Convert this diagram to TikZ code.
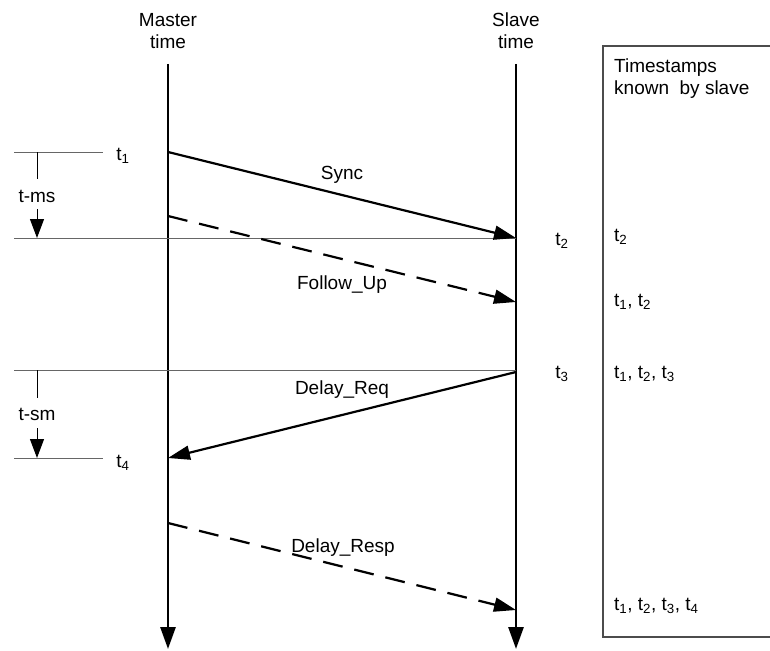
\documentclass[tikz,border=0pt]{standalone}
\usepackage{fontspec}
\setmainfont{Liberation Sans}
\usetikzlibrary{arrows.meta}
\begin{document}
\begin{tikzpicture}[x=1pt,y=-1pt,
  every node/.style={font=\fontsize{19}{22}\selectfont, inner sep=0pt},
  axis/.style={line width=2.8pt, -{Triangle[length=22pt,width=15pt]}},
  msg/.style={line width=2.2pt, -{Triangle[length=22pt,width=14pt]}},
  msgd/.style={msg, dash pattern=on 20pt off 12pt},
  guide/.style={line width=0.8pt, draw=black!60},
  meas/.style={line width=1pt},
  measarr/.style={line width=1pt, -{Triangle[length=19pt,width=14pt]}},
  lbl/.style={anchor=center},
  col/.style={anchor=west, align=left}]
\useasboundingbox (0,0) rectangle (770,650);
% axes
\node[align=center] (mt) at (168,31) {Master\\time};
\node[align=center] (st) at (516,31) {Slave\\time};
\coordinate (m0) at (168,64); \coordinate (m1) at (168,649);
\coordinate (s0) at (516,64); \coordinate (s1) at (516,649);
\draw[axis] (m0) -- (m1);
\draw[axis] (s0) -- (s1);
% box
\draw[line width=1.2pt, draw=black!70] (790,46) -- (603,46) -- (603,637) -- (790,637);
\node[col] (kn) at (614,79) {Timestamps\\known\ \ by slave};
% guide lines
\coordinate (g1a) at (14,152); \coordinate (g1b) at (103,152);
\coordinate (g2a) at (14,238); \coordinate (g2b) at (516,238);
\coordinate (g3a) at (14,370); \coordinate (g3b) at (516,370);
\coordinate (g4a) at (14,458); \coordinate (g4b) at (103,458);
\draw[guide] (g1a) -- (g1b);
\draw[guide] (g2a) -- (g2b);
\draw[guide] (g3a) -- (g3b);
\draw[guide] (g4a) -- (g4b);
% t labels
\node[lbl] (t1) at (123,156) {t\textsubscript{1}};
\node[lbl] (t2) at (562,241) {t\textsubscript{2}};
\node[lbl] (t3) at (562,374) {t\textsubscript{3}};
\node[lbl] (t4) at (123,463) {t\textsubscript{4}};
% measures
\node[lbl] (tms) at (37,196) {t-ms};
\coordinate (ms0) at (37,152); \coordinate (ms1) at (37,179);
\coordinate (ms2) at (37,209); \coordinate (ms3) at (37,238);
\draw[meas] (ms0) -- (ms1);
\draw[measarr] (ms2) -- (ms3);
\node[lbl] (tsm) at (37,414) {t-sm};
\coordinate (sm0) at (37,370); \coordinate (sm1) at (37,398);
\coordinate (sm2) at (37,428); \coordinate (sm3) at (37,458);
\draw[meas] (sm0) -- (sm1);
\draw[measarr] (sm2) -- (sm3);
% messages
\coordinate (a0) at (168,152); \coordinate (a1) at (516,238);
\coordinate (b0) at (168,216); \coordinate (b1) at (516,302);
\coordinate (c0) at (516,372); \coordinate (c1) at (168,458);
\coordinate (d0) at (168,523); \coordinate (d1) at (516,610);
\draw[msg] (a0) -- (a1);
\draw[msgd] (b0) -- (b1);
\draw[msg] (c0) -- (c1);
\draw[msgd] (d0) -- (d1);
\node[lbl] (sync) at (342,175) {Sync};
\node[lbl] (fu) at (342,285) {Follow\_Up};
\node[lbl] (dr) at (342,390) {Delay\_Req};
\node[lbl] (drs) at (343,548) {Delay\_Resp};
% known timestamps
\node[col] (k2) at (614,237) {t\textsubscript{2}};
\node[col] (k12) at (614,302) {t\textsubscript{1}, t\textsubscript{2}};
\node[col] (k123) at (614,374) {t\textsubscript{1}, t\textsubscript{2}, t\textsubscript{3}};
\node[col] (k1234) at (614,606) {t\textsubscript{1}, t\textsubscript{2}, t\textsubscript{3}, t\textsubscript{4}};
\end{tikzpicture}
\end{document}
